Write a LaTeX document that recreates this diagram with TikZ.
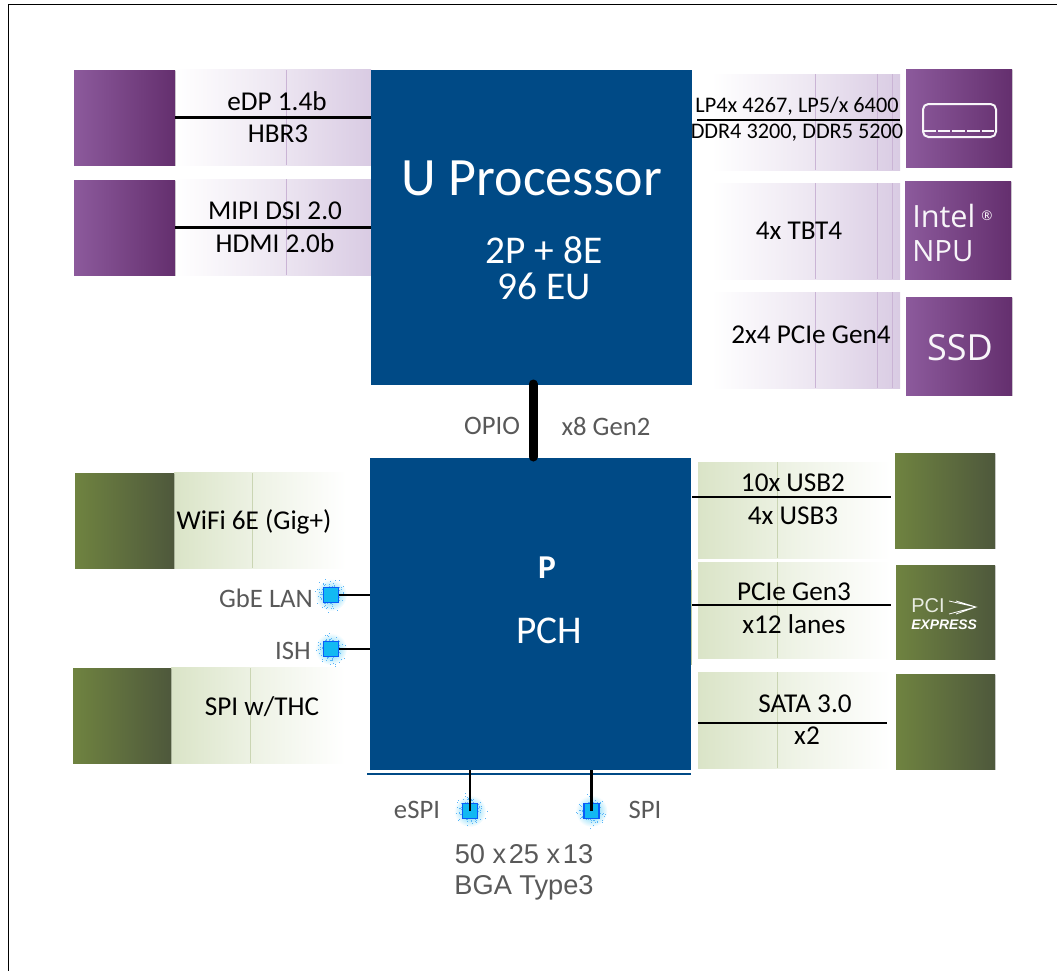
\documentclass[tikz,border=0pt]{standalone}
\usepackage{fontspec}
\setmainfont{Carlito}
\newfontfamily\arialfont{Liberation Sans}
\newfontfamily\logofont{Open Sans}
\usetikzlibrary{shadows,calc}
\definecolor{chipblue}{HTML}{004A86}
\definecolor{labelgray}{HTML}{595959}
\definecolor{purpleA}{HTML}{8C5A9C}
\definecolor{purpleB}{HTML}{642F6E}
\definecolor{purpleC}{HTML}{D9CBE3}
\definecolor{greenA}{HTML}{6F8340}
\definecolor{greenB}{HTML}{4E583C}
\definecolor{greenC}{HTML}{DAE4C7}
\definecolor{dotblue}{HTML}{12B9F2}
\tikzset{
    x=0.75pt, y=-0.75pt,
    boxsize/.style 2 args={minimum width=#1*0.75pt, minimum height=#2*0.75pt, inner sep=0pt, outer sep=0pt},
    chip/.style={fill=chipblue, text=white},
    purplebox/.style={left color=purpleA, right color=purpleB, drop shadow={shadow xshift=1pt, shadow yshift=-1pt, opacity=.15, fill=black}},
    greenbox/.style={left color=greenA, right color=greenB, drop shadow={shadow xshift=1pt, shadow yshift=-1pt, opacity=.15, fill=black}},
    purplestrip/.style={left color=white, right color=purpleC, middle color=purpleC!45},
    greenstrip/.style={left color=greenC, right color=white, middle color=greenC!45},
    label/.style={font=\fontsize{20.4}{22}\selectfont, inner sep=0pt},
    graylabel/.style={label, text=labelgray, font=\fontsize{20}{22}\selectfont},
    pkglabel/.style={label, text=labelgray, font=\arialfont\fontsize{20.4}{22}\selectfont},
    bus/.style={draw=black, line width=1.6pt},
    portbus/.style={draw=black, line width=2pt},
    glow/.style={circle, minimum size=24pt, inner sep=0pt, inner color=dotblue!70, outer color=white},
    speck/.style={fill=dotblue!80!blue!70, inner sep=0pt, minimum size=0.75pt},
    portdot/.style={draw=dotblue!50!blue, line width=0.8pt, fill=dotblue, boxsize={15}{15}},
    logotext/.style={text=white!94!purpleA, inner sep=0pt},
}
\begin{document}
\begin{tikzpicture}
    \useasboundingbox (0,0) rectangle (1057,971);
    \pgfmathsetseed{4711}
    % Outer frame
    \draw[line width=1.3pt] (8.5,971) -- (8.5,4.5) -- (1057,4.5);

    % Purple strips
    \foreach \n/\cx/\cy/\w in {edpstrip/273/117.5/196, dsistrip/273/227/196,
                               memstrip/806/122/188, tbtstrip/806/231/188, ssdstrip/806/340/188}
        \node[purplestrip, boxsize={\w}{96}] (\n) at (\cx,\cy) {};
    \foreach \x in {286}
        \foreach \a/\b in {70/165,179/275}
            \draw[purpleC!80!purpleA, line width=0.4pt] (\x,\a) -- (\x,\b);
    \foreach \x in {815,877,892}
        \foreach \a/\b in {74/170,183/279,292/388}
            \draw[purpleC!80!purpleA, line width=0.4pt] (\x,\a) -- (\x,\b);

    % Green strips
    \foreach \n/\cx/\cy/\w in {wifistrip/260/520.5/172, thcstrip/258/715.5/174,
                               usbstrip/794/510/192, pciestrip/794/610/192, satastrip/794/720/192}
        \node[greenstrip, boxsize={\w}{96}] (\n) at (\cx,\cy) {};
    \foreach \x/\a/\b in {252/473/568, 250/668/763, 777/462/558, 777/562/658, 777/672/768}
        \draw[greenC!85!greenA, line width=0.4pt] (\x,\a) -- (\x,\b);

    % Chips
    \node[chip, boxsize={321}{315}] (uproc) at (531.5,227.5) {};
    \fill[greenC!70!greenA] (691,570) rectangle (692,665);
    \node[chip, boxsize={321}{312}] (pch) at (530.5,614) {};
    \draw[chipblue, line width=1pt] (367,774) -- (691,774);

    % Purple boxes
    \node[purplebox, boxsize={101}{95}] (edpbox) at (124.5,117.5) {};
    \node[purplebox, boxsize={101}{95}] (dsibox) at (124.5,227.5) {};
    \node[purplebox, boxsize={106}{98}] (membox) at (959,118) {};
    \node[purplebox, boxsize={106}{98}] (npubox) at (958,230) {};
    \node[purplebox, boxsize={106}{98}] (ssdbox) at (959,346) {};

    % Green boxes
    \node[greenbox, boxsize={99}{95}] (wifibox) at (124.5,520.5) {};
    \node[greenbox, boxsize={98}{95}] (thcbox) at (122,715.5) {};
    \node[greenbox, boxsize={100}{95}] (usbbox) at (945,500.5) {};
    \node[greenbox, boxsize={99}{94}] (pciebox) at (945.5,612) {};
    \node[greenbox, boxsize={99}{95}] (satabox) at (945.5,721.5) {};

    % Buses
    \draw[bus] (edpbox.east) -- (edpbox.east -| uproc.west);
    \draw[bus] (dsibox.east) -- (dsibox.east -| uproc.west);
    \coordinate (memA) at (697,120);
    \coordinate (memB) at (900,120);
    \draw[bus] (memA) -- (memB);
    \coordinate (usbA) at (692,497);
    \coordinate (usbB) at (891,497);
    \draw[bus] (usbA) -- (usbB);
    \coordinate (pcieA) at (692,605);
    \coordinate (pcieB) at (891,605);
    \draw[bus] (pcieA) -- (pcieB);
    \coordinate (sataA) at (698,723);
    \coordinate (sataB) at (887,723);
    \draw[bus] (sataA) -- (sataB);

    % OPIO link
    \coordinate (linktop) at (533,384);
    \coordinate (linkbot) at (533,457);
    \draw[line width=6.75pt, line cap=round] (linktop) -- (linkbot);

    % Port dots
    \foreach \n/\cx/\cy in {gbedot/331/595, ishdot/331/649, espidot/470/811, spidot/591.5/811} {
        \node[glow] at (\cx,\cy) {};
        \foreach \k in {1,...,90} {
            \pgfmathsetmacro{\ang}{rnd*360}
            \pgfmathsetmacro{\rad}{7+12*rnd*rnd}
            \node[speck] at ($(\cx,\cy)+(\ang:\rad)$) {};
        }
        \node[portdot] (\n) at (\cx,\cy) {};
    }
    \draw[portbus] (gbedot.east) -- (gbedot.east -| pch.west);
    \draw[portbus] (ishdot.east) -- (ishdot.east -| pch.west);
    \draw[portbus] (espidot.center) -- (espidot.center |- pch.south);
    \draw[portbus] (spidot.center) -- (spidot.center |- pch.south);

    % Chip labels
    \node[text=white, font=\fontsize{40.5}{44}\selectfont] (utitle) at (532,178) {U Processor};
    \node[text=white, font=\fontsize{29.5}{32}\selectfont] (ucores) at (544,250) {2P + 8E};
    \node[text=white, font=\fontsize{29.5}{32}\selectfont] (ueu) at (544,286) {96 EU};
    \node[text=white, font=\bfseries\fontsize{25}{27}\selectfont] (ptitle) at (547,568) {P};
    \node[text=white, font=\fontsize{29.5}{32}\selectfont] (pchtitle) at (549,631) {PCH};

    % Interface labels
    \foreach \n/\cx/\cy/\t in {a/277/101/{eDP 1.4b}, b/278/134/{HBR3}, c/275/211/{MIPI DSI 2.0}, d/275/243/{HDMI 2.0b},
                               e/799/231/{4x TBT4}, f/811/335/{2x4 PCIe Gen4}, g/254/522/{WiFi 6E (Gig+)}, h/262/707/{SPI w/THC},
                               i/793/483/{10x USB2}, j/793/516/{4x USB3}, k/794/592/{PCIe Gen3}, l/794/624/{x12 lanes},
                               m/805/704/{SATA 3.0}, n/807/736/{x2}}
        \node[label] (lab\n) at (\cx,\cy) {\t};
    \node[label, font=\fontsize{16.7}{18}\selectfont] (memtop) at (797,106) {LP4x 4267, LP5/x 6400};
    \node[label, font=\fontsize{16.7}{18}\selectfont] (membot) at (797,133) {DDR4 3200, DDR5 5200};

    % Gray labels
    \foreach \n/\cx/\cy/\t in {gbe/266/598/{GbE LAN}, ish/293/651/{ISH}, espi/417/810/{eSPI}, spi/645/810/{SPI},
                               opio/492/426/{OPIO}, gen/606/426/{x8 Gen2}}
        \node[graylabel] (lab\n) at (\cx,\cy) {\t};
    \node[pkglabel] (pkgsize) at (524,854) {50 x\hspace{2pt}25 x\hspace{2pt}13};
    \node[pkglabel] (pkgtype) at (524,888) {BGA Type3};

    % Memory icon
    \draw[white!94!purpleA, line width=1.5pt, rounded corners=4pt] (923,104) rectangle (996,137);
    \draw[white!94!purpleA, line width=1.5pt, dash pattern=on 9.5pt off 1.5pt] (923,131) -- (996,131);

    % Box logos
    \node[logotext, font=\logofont\fontsize{23}{24}\selectfont, anchor=west] (npuA) at (912,216) {Intel};
    \node[logotext, font=\logofont\fontsize{10}{11}\selectfont] (npuR) at (987,216) {®};
    \node[logotext, font=\logofont\fontsize{22}{24}\selectfont, anchor=west] (npuB) at (912,251) {NPU};
    \node[logotext, font=\logofont\fontsize{27}{28}\selectfont] (ssdlogo) at (960,348) {SSD};
    \node[text=white!85!greenA, font=\arialfont\fontsize{15}{16}\selectfont, anchor=west, inner sep=0pt] (pcilogo) at (911,605.5) {PCI};
    \draw[white, line width=0.6pt] (949,601) -- (976,607) -- (949,614) (956,601) -- (976,607) -- (956,614);
    \node[text=white, font=\arialfont\bfseries\itshape\fontsize{10.4}{11}\selectfont, inner sep=0pt] (pciexp) at (944,625) {EXPRESS};
\end{tikzpicture}
\end{document}
